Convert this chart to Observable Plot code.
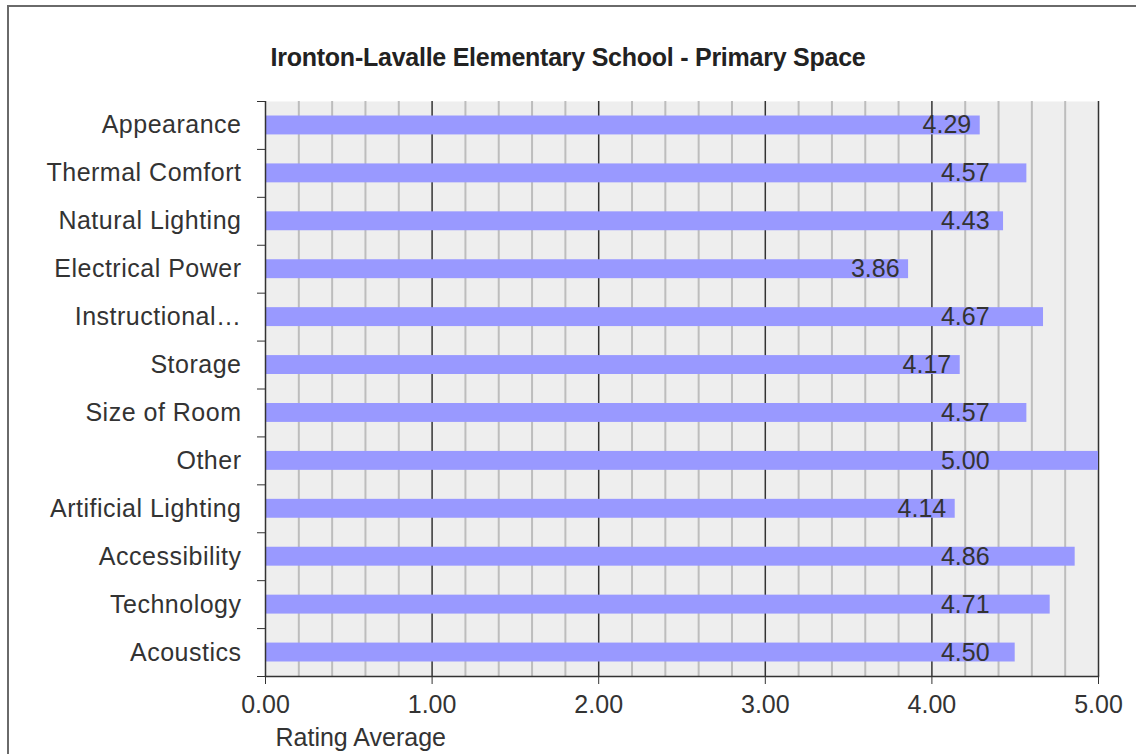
<!DOCTYPE html>
<html><head><meta charset="utf-8">
<script src="https://cdn.jsdelivr.net/npm/d3@7"></script>
<script src="https://cdn.jsdelivr.net/npm/@observablehq/plot@0.6"></script>
<style>
html,body{margin:0;padding:0;background:#fff;overflow:hidden;width:1136px;height:754px;}
#wrap{position:relative;width:1136px;height:754px;overflow:hidden;}
#border{position:absolute;left:7px;top:5px;width:1200px;height:800px;border:2px solid #6a6a6a;}
#title{position:absolute;left:0;width:1136px;top:43px;line-height:25px;text-align:center;font:bold 25px "Liberation Sans",Arial,sans-serif;letter-spacing:-0.25px;color:#222;}
#chart{position:absolute;left:0;top:0;}
g[aria-label="y-axis tick label"] text{letter-spacing:0.5px;}
</style></head><body>
<div id="wrap"><div id="border"></div><div id="title"></div><div id="chart"></div></div>
<script>
const title = "Ironton-Lavalle Elementary School - Primary Space";
const categories = ["Appearance","Thermal Comfort","Natural Lighting","Electrical Power","Instructional…","Storage","Size of Room","Other","Artificial Lighting","Accessibility","Technology","Acoustics"];
const values = [4.29,4.57,4.43,3.86,4.67,4.17,4.57,5.00,4.14,4.86,4.71,4.50];
const xTicks = [0,1,2,3,4,5];
const minorTicks = [0.2,0.4,0.6,0.8,1.2,1.4,1.6,1.8,2.2,2.4,2.6,2.8,3.2,3.4,3.6,3.8,4.2,4.4,4.6,4.8];
const xLabel = "Rating Average";

document.getElementById("title").textContent = title;
const data = categories.map((c,i)=>({category:c, value:values[i]}));
const W=1136,H=754,mL=265,mR=38,mT=101,mB=78;
const step = (H-mT-mB)/categories.length;
const fmt = d3.format(".2f");
const font = '"Liberation Sans", Arial, sans-serif';
const chart = Plot.plot({
  width:W, height:H, marginLeft:mL, marginRight:mR, marginTop:mT, marginBottom:mB,
  style:{fontFamily:font, fontSize:"25px", color:"#333", background:"transparent", overflow:"visible"},
  x:{domain:[0,5]},
  y:{domain:categories, padding:0, round:false},
  marks:[
    Plot.frame({fill:"#eeeeee", stroke:null}),
    Plot.ruleX(minorTicks, {stroke:"#bdbdbd", strokeWidth:2}),
    Plot.ruleX(xTicks.slice(1), {stroke:"#333", strokeWidth:1.5}),
    Plot.barX(data, {y:"category", x:"value", fill:"#9999ff", insetTop:14.5, insetBottom:14.5}),
    Plot.text(data, {y:"category", x:d=>Math.min(d.value-0.2,4.2), text:d=>fmt(d.value), fill:"#333", fontSize:25}),
    Plot.ruleX([0], {stroke:"#333", strokeWidth:1.5}),
    Plot.frame({anchor:"bottom", stroke:"#333", strokeWidth:1.5}),
    Plot.axisX({ticks:xTicks, tickSize:8, tickPadding:11, tickFormat:fmt, label:null, stroke:"#333", fill:"#333", fontSize:25}),
    Plot.axisY({tickSize:0, tickPadding:24, label:null, fill:"#333", fontSize:25}),
    Plot.axisY({tickSize:8, text:null, dy:-step/2, label:null, stroke:"#333"}),
    Plot.axisY({ticks:[categories[categories.length-1]], tickSize:8, text:null, dy:step/2, label:null, stroke:"#333"}),
    Plot.text([xLabel], {frameAnchor:"bottom-left", dx:10, dy:52, lineAnchor:"top", textAnchor:"start", fontSize:25, fill:"#333"})
  ]
});
document.getElementById("chart").appendChild(chart);
</script>
</body></html>
